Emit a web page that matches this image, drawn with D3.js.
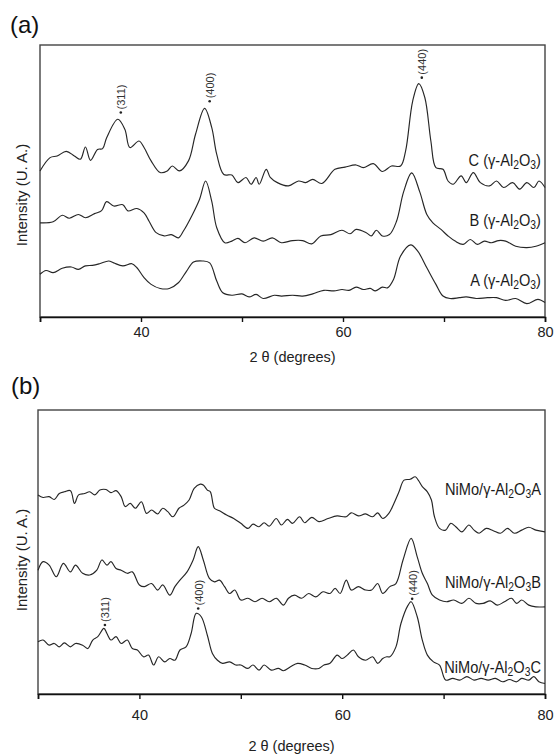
<!DOCTYPE html>
<html><head><meta charset="utf-8">
<script src="https://cdn.jsdelivr.net/npm/d3@7"></script>
<style>
body{margin:0;background:#fff}
svg{display:block;font-family:"Liberation Sans",Arial,Helvetica,sans-serif}
</style></head><body>
<svg id="chart" width="555" height="756"></svg>
<script>
// ---------- data ----------
const xDomain = [30, 80];
const xTickValues = [30, 40, 50, 60, 70, 80];
const xTickLabels = ["", "40", "", "60", "", "80"];
const xTitle = "2 \u03B8 (degrees)";
const yTitle = "Intensity (U. A.)";
const panelLetters = ["(a)", "(b)"];
const peakNames = ["(311)", "(400)", "(440)"];

// panel (a): support samples C, B, A  [2θ, intensity a.u.]
const supportC = [[30,53.7],[31,58.6],[31.7,59.2],[32.6,60.9],[33.4,59.2],[34,58.0],[34.5,62.5],[35,57.6],[35.7,61.6],[36.2,61.9],[36.6,65.9],[37.7,72.7],[38.4,69.0],[38.9,62.3],[39.8,64.7],[40.3,62.3],[41,57.4],[41.9,53.1],[42.6,53.7],[43.1,55.5],[43.8,53.7],[44.7,57.4],[45.4,67.2],[46.3,76.7],[47,69.7],[47.5,59.8],[48.2,52.4],[49,52.2],[49.6,49.4],[50.4,51.3],[50.9,48.8],[51.4,51.3],[51.7,48.8],[52.4,54.3],[52.8,51.3],[53.5,49.4],[54.6,48.2],[55.6,50.0],[56.3,49.4],[57,50.6],[57.9,49.1],[59.2,54.3],[60.2,55.1],[61.3,55.9],[62,54.9],[63,56.4],[63.9,53.5],[64.8,55.5],[65.7,55.5],[66.2,61.1],[66.9,79.4],[67.5,85.8],[68.1,80.7],[68.7,64.7],[69.2,54.9],[69.9,54.3],[70.4,50.0],[70.9,48.8],[71.7,51.9],[72.2,49.4],[72.9,53.1],[73.6,49.4],[74.5,48.2],[75.2,50.0],[75.9,47.6],[76.8,49.4],[77.5,47.0],[78.2,49.4],[78.9,47.6],[79.4,50.0],[80,47.6]];
const supportB = [[30,34.6],[31.3,35.0],[32.2,37.4],[32.9,36.3],[33.8,37.7],[34.5,36.5],[35.4,38.0],[36.1,39.1],[36.6,42.4],[37.3,40.8],[38.2,41.3],[38.7,39.0],[39.6,39.9],[40.3,38.3],[40.8,35.2],[41.5,31.0],[42.3,29.8],[43,30.3],[43.7,29.1],[44.2,31.6],[45.1,37.7],[45.8,43.3],[46.4,50.0],[47,42.6],[47.5,32.8],[48.3,27.3],[49,27.9],[49.6,28.9],[50.3,27.3],[51.2,29.1],[52.1,27.9],[53,29.1],[53.9,27.3],[55,28.1],[56,28.1],[56.9,26.9],[57.8,29.8],[58.8,30.3],[59.9,31.9],[60.7,30.6],[61.3,32.2],[62.3,31.0],[62.8,29.8],[63.3,31.9],[63.9,29.8],[64.6,30.3],[65.3,35.2],[66,46.0],[66.8,53.0],[67.6,46.0],[68.3,37.7],[68.9,34.6],[69.7,32.2],[70.4,29.8],[71.1,27.9],[71.9,26.7],[72.6,28.5],[73.3,26.7],[74,27.9],[74.7,27.3],[75.4,28.1],[76.1,27.9],[77.1,26.0],[78.2,25.5],[79.1,26.0],[80,27.3]];
const supportA = [[30,15.7],[30.6,17.1],[31.3,16.3],[32.2,17.9],[33.1,18.4],[33.8,17.5],[34.5,18.8],[35.2,19.0],[35.9,19.6],[36.8,20.6],[37.3,19.9],[38.2,18.8],[39.1,19.6],[39.6,18.1],[40.3,14.5],[41,12.0],[41.9,10.5],[42.8,10.5],[43.7,12.6],[44.5,16.8],[45.2,20.2],[46.1,20.6],[46.8,19.9],[47.5,13.2],[48.1,8.9],[49,8.0],[50,8.5],[50.7,7.4],[51.4,8.3],[52.1,6.8],[53.2,8.0],[53.9,7.7],[55,8.0],[56,7.7],[57,8.5],[58.1,9.8],[59.1,9.6],[59.9,10.1],[60.6,9.8],[61.3,11.0],[62,10.1],[62.7,10.5],[63.2,9.6],[63.9,11.0],[64.4,10.7],[65,13.8],[65.7,22.4],[66.7,26.5],[67.4,24.2],[68.3,18.1],[69.2,12.0],[69.9,7.7],[70.6,6.8],[71.5,7.1],[72.2,7.4],[73.2,6.8],[74.3,7.1],[75.2,7.1],[76.1,6.1],[77.1,6.8],[78.2,4.9],[79.3,6.5],[80,5.3]];
const supportNames = ["C", "B", "A"];
const supportLabelY = [57, 35, 13];
const supportPeakX = [38.0, 46.8, 67.8];
const supportPeakY = [75.2, 79.3, 88.0];

// panel (b): NiMo catalysts A, B, C
const nimoA = [[30,70.1],[30.5,69.2],[31.1,69.5],[31.6,68.5],[32.1,70.6],[32.6,71.2],[33.2,71.6],[33.6,67.1],[34,70.1],[34.6,70.6],[35.1,71.2],[35.6,70.1],[36.1,71.8],[36.7,72.0],[37.2,70.9],[37.7,71.6],[38.2,69.5],[38.6,66.0],[39.1,67.1],[39.6,65.4],[40.2,67.7],[40.7,63.6],[41.2,64.8],[41.8,63.4],[42.3,65.4],[42.8,64.2],[43.3,62.4],[43.9,65.4],[44.4,66.5],[44.9,68.3],[45.4,72.4],[46.0,73.9],[46.3,73.6],[46.7,71.8],[47.0,71.2],[47.4,65.4],[47.9,64.5],[48.6,63.0],[49.3,61.8],[50.0,60.1],[50.7,58.3],[51.2,59.8],[51.8,58.9],[52.3,60.3],[52.8,59.1],[53.5,61.8],[54.0,59.5],[54.6,61.5],[55.1,60.1],[55.8,62.4],[56.3,60.3],[57.0,62.2],[57.7,60.7],[58.6,61.8],[59.5,62.7],[60.4,62.4],[60.9,63.8],[61.6,62.7],[62.3,63.4],[63.0,62.4],[63.5,63.8],[64.0,61.8],[64.6,63.6],[65.1,67.1],[65.6,71.2],[66.1,75.3],[66.7,75.6],[67.2,76.5],[67.5,75.3],[67.9,73.0],[68.4,71.2],[68.8,68.3],[69.1,62.4],[69.6,58.3],[70.2,57.7],[70.7,60.1],[71.2,58.9],[71.8,57.1],[72.5,59.5],[73.0,57.7],[73.5,56.6],[74.2,58.3],[74.9,57.5],[75.6,56.6],[76.3,58.3],[77.0,56.6],[77.7,57.7],[78.4,58.7],[79.1,57.7],[80,57.1]];
const nimoB = [[30,43.6],[30.5,46.6],[31.1,45.4],[31.8,41.3],[32.5,46.0],[33.2,43.0],[33.7,45.4],[34.4,42.5],[35.1,41.9],[35.8,43.6],[36.3,47.2],[36.8,45.4],[37.2,46.6],[37.7,44.2],[38.2,43.6],[38.8,42.5],[39.3,43.0],[40.0,38.4],[40.5,37.8],[41.2,38.9],[41.8,36.6],[42.3,38.4],[43.0,34.8],[43.5,37.8],[44.0,40.1],[44.7,43.0],[45.3,47.2],[45.8,51.9],[46.3,47.2],[46.9,40.7],[47.4,39.5],[47.9,40.1],[48.4,37.8],[48.9,35.4],[49.4,36.6],[50.0,33.1],[50.7,33.7],[51.4,32.5],[52.1,33.7],[52.8,32.5],[53.5,33.7],[54.2,31.3],[54.7,33.7],[55.3,34.8],[56.0,33.7],[56.7,35.4],[57.4,34.2],[58.1,36.0],[58.8,35.4],[59.3,37.2],[59.8,35.4],[60.4,40.1],[60.9,36.6],[61.6,37.8],[62.3,36.6],[62.9,36.6],[63.5,38.9],[64.0,35.4],[64.7,37.8],[65.3,38.9],[66.0,47.2],[66.8,54.8],[67.4,48.3],[67.9,42.5],[68.4,38.9],[68.9,34.8],[69.6,33.1],[70.3,32.5],[71.0,33.1],[71.8,31.9],[72.5,33.7],[73.2,31.9],[73.9,31.9],[74.6,32.8],[75.3,31.3],[76.0,32.5],[76.7,33.7],[77.2,31.9],[77.7,33.1],[78.4,31.3],[79.1,30.7],[80,30.7]];
const nimoC = [[30,18.4],[30.5,19.0],[31.1,17.2],[31.6,17.8],[32.1,16.6],[32.6,18.0],[33.2,16.6],[33.7,17.8],[34.4,17.2],[34.9,16.0],[35.4,19.0],[35.9,20.2],[36.5,23.1],[36.8,21.3],[37.2,19.0],[37.7,20.2],[38.2,17.8],[38.8,19.0],[39.3,16.0],[39.8,15.5],[40.4,13.1],[40.9,13.7],[41.4,10.2],[41.9,13.1],[42.5,11.3],[43.0,12.5],[43.5,11.9],[44.0,15.5],[44.6,16.6],[45.1,21.3],[45.6,28.4],[46.1,27.2],[46.7,20.7],[47.2,14.3],[47.7,11.9],[48.2,10.8],[48.9,11.3],[49.5,10.2],[50.0,10.2],[50.7,9.0],[51.2,10.2],[51.8,8.4],[52.3,10.2],[53.0,8.4],[53.7,9.0],[54.2,8.2],[54.9,9.6],[55.6,10.8],[56.3,10.2],[57.0,9.0],[57.7,9.0],[58.2,10.2],[58.8,10.8],[59.5,13.7],[60.0,12.5],[60.5,13.7],[61.1,15.5],[61.6,13.1],[62.3,11.9],[63.0,13.1],[63.5,10.8],[64.0,12.5],[64.4,13.1],[64.7,13.1],[65.3,16.6],[65.8,24.9],[66.5,31.3],[66.8,32.5],[67.4,27.2],[67.9,19.0],[68.4,13.7],[69.0,11.3],[69.6,10.2],[70.2,4.9],[70.9,5.5],[71.6,4.9],[72.3,6.1],[73.0,4.9],[73.7,5.5],[74.4,4.9],[75.1,5.5],[75.8,4.3],[76.5,5.1],[77.2,4.3],[77.7,5.5],[78.4,4.9],[78.9,6.1],[79.4,4.3],[80,3.7]];
const nimoNames = ["NiMo/\u03B3-Al|2|O|3|A", "NiMo/\u03B3-Al|2|O|3|B", "NiMo/\u03B3-Al|2|O|3|C"];
const nimoLabelY = [71.5, 38.7, 9];
const nimoPeakX = [36.6, 45.8, 66.9];
const nimoPeakY = [24.3, 30.1, 33.5];

// ---------- drawing ----------
const svg = d3.select("#chart");
const lineColor = "#262626";

const panels = [
  { letter: panelLetters[0], lx: 10, ly: 33, left: 40, right: 545, top: 45, bottom: 317,
    tickPad: 5, titleY: 362, yTitleCY: 195,
    series: [supportC, supportB, supportA],
    labels: supportNames.map(n => n + " (\u03B3-Al|2|O|3|)"), labelY: supportLabelY,
    peakX: supportPeakX, peakY: supportPeakY },
  { letter: panelLetters[1], lx: 11, ly: 394, left: 38, right: 545, top: 410, bottom: 694,
    tickPad: 11, titleY: 751, yTitleCY: 560,
    series: [nimoA, nimoB, nimoC],
    labels: nimoNames, labelY: nimoLabelY,
    peakX: nimoPeakX, peakY: nimoPeakY }
];

panels.forEach(p => {
  const x = d3.scaleLinear().domain(xDomain).range([p.left, p.right]);
  const y = d3.scaleLinear().domain([0, 100]).range([p.bottom, p.top]);
  const g = svg.append("g");

  // panel letter
  g.append("text").attr("x", p.lx).attr("y", p.ly)
    .attr("font-size", 24).attr("fill", "#111").text(p.letter);

  // frame
  g.append("rect").attr("x", p.left).attr("y", p.top)
    .attr("width", p.right - p.left).attr("height", p.bottom - p.top)
    .attr("fill", "none").attr("stroke", "#444").attr("stroke-width", 1.4);

  // bottom axis
  const ax = g.append("g").attr("transform", `translate(0,${p.bottom})`)
    .call(d3.axisBottom(x).tickValues(xTickValues)
      .tickFormat((d, i) => xTickLabels[i]).tickSize(5).tickPadding(p.tickPad));
  ax.select(".domain").attr("stroke", "#111").attr("stroke-width", 1.6);
  ax.selectAll(".tick line").attr("stroke", "#111").attr("stroke-width", 1.4);
  ax.selectAll(".tick text").attr("font-size", 14.5).attr("fill", "#222")
    .attr("font-family", "'Liberation Sans', Arial, sans-serif");

  // axis titles
  g.append("text").attr("x", (p.left + p.right) / 2).attr("y", p.titleY)
    .attr("text-anchor", "middle").attr("font-size", 14.5).attr("fill", "#222").text(xTitle);
  g.append("text").attr("transform", `translate(27,${p.yTitleCY}) rotate(-90)`)
    .attr("text-anchor", "middle").attr("font-size", 15).attr("fill", "#222").text(yTitle);

  // curves
  const line = d3.line().x(d => x(d[0])).y(d => y(d[1])).curve(d3.curveCatmullRom.alpha(0.5));
  g.selectAll("path.xrd").data(p.series).join("path").attr("class", "xrd")
    .attr("d", line).attr("fill", "none").attr("stroke", lineColor)
    .attr("stroke-width", 1.15).attr("stroke-linejoin", "round");

  // series labels with subscripts (condensed face)
  p.labels.forEach((lab, i) => {
    const t = g.append("text")
      .attr("transform", `translate(${x(79.6)},${y(p.labelY[i])}) scale(0.86,1)`)
      .attr("text-anchor", "end").attr("dominant-baseline", "middle")
      .attr("font-size", 17).attr("fill", "#1a1a1a");
    lab.split("|").forEach((part, k) => {
      if (k % 2 === 1) {
        t.append("tspan").attr("font-size", 12).attr("dy", 4).text(part);
      } else {
        const ts = t.append("tspan").text(part);
        if (k > 0) ts.attr("dy", -4);
      }
    });
  });

  // peak annotations
  p.peakX.forEach((px, i) => {
    const cx = x(px), cy = y(p.peakY[i]);
    g.append("circle").attr("cx", cx).attr("cy", cy).attr("r", 1.3).attr("fill", "#222");
    g.append("text").attr("transform", `translate(${cx + 0.5},${cy - 3}) rotate(-90)`)
      .attr("dominant-baseline", "central").attr("font-size", 11).attr("fill", "#333")
      .text(peakNames[i]);
  });
});
</script>
</body></html>
